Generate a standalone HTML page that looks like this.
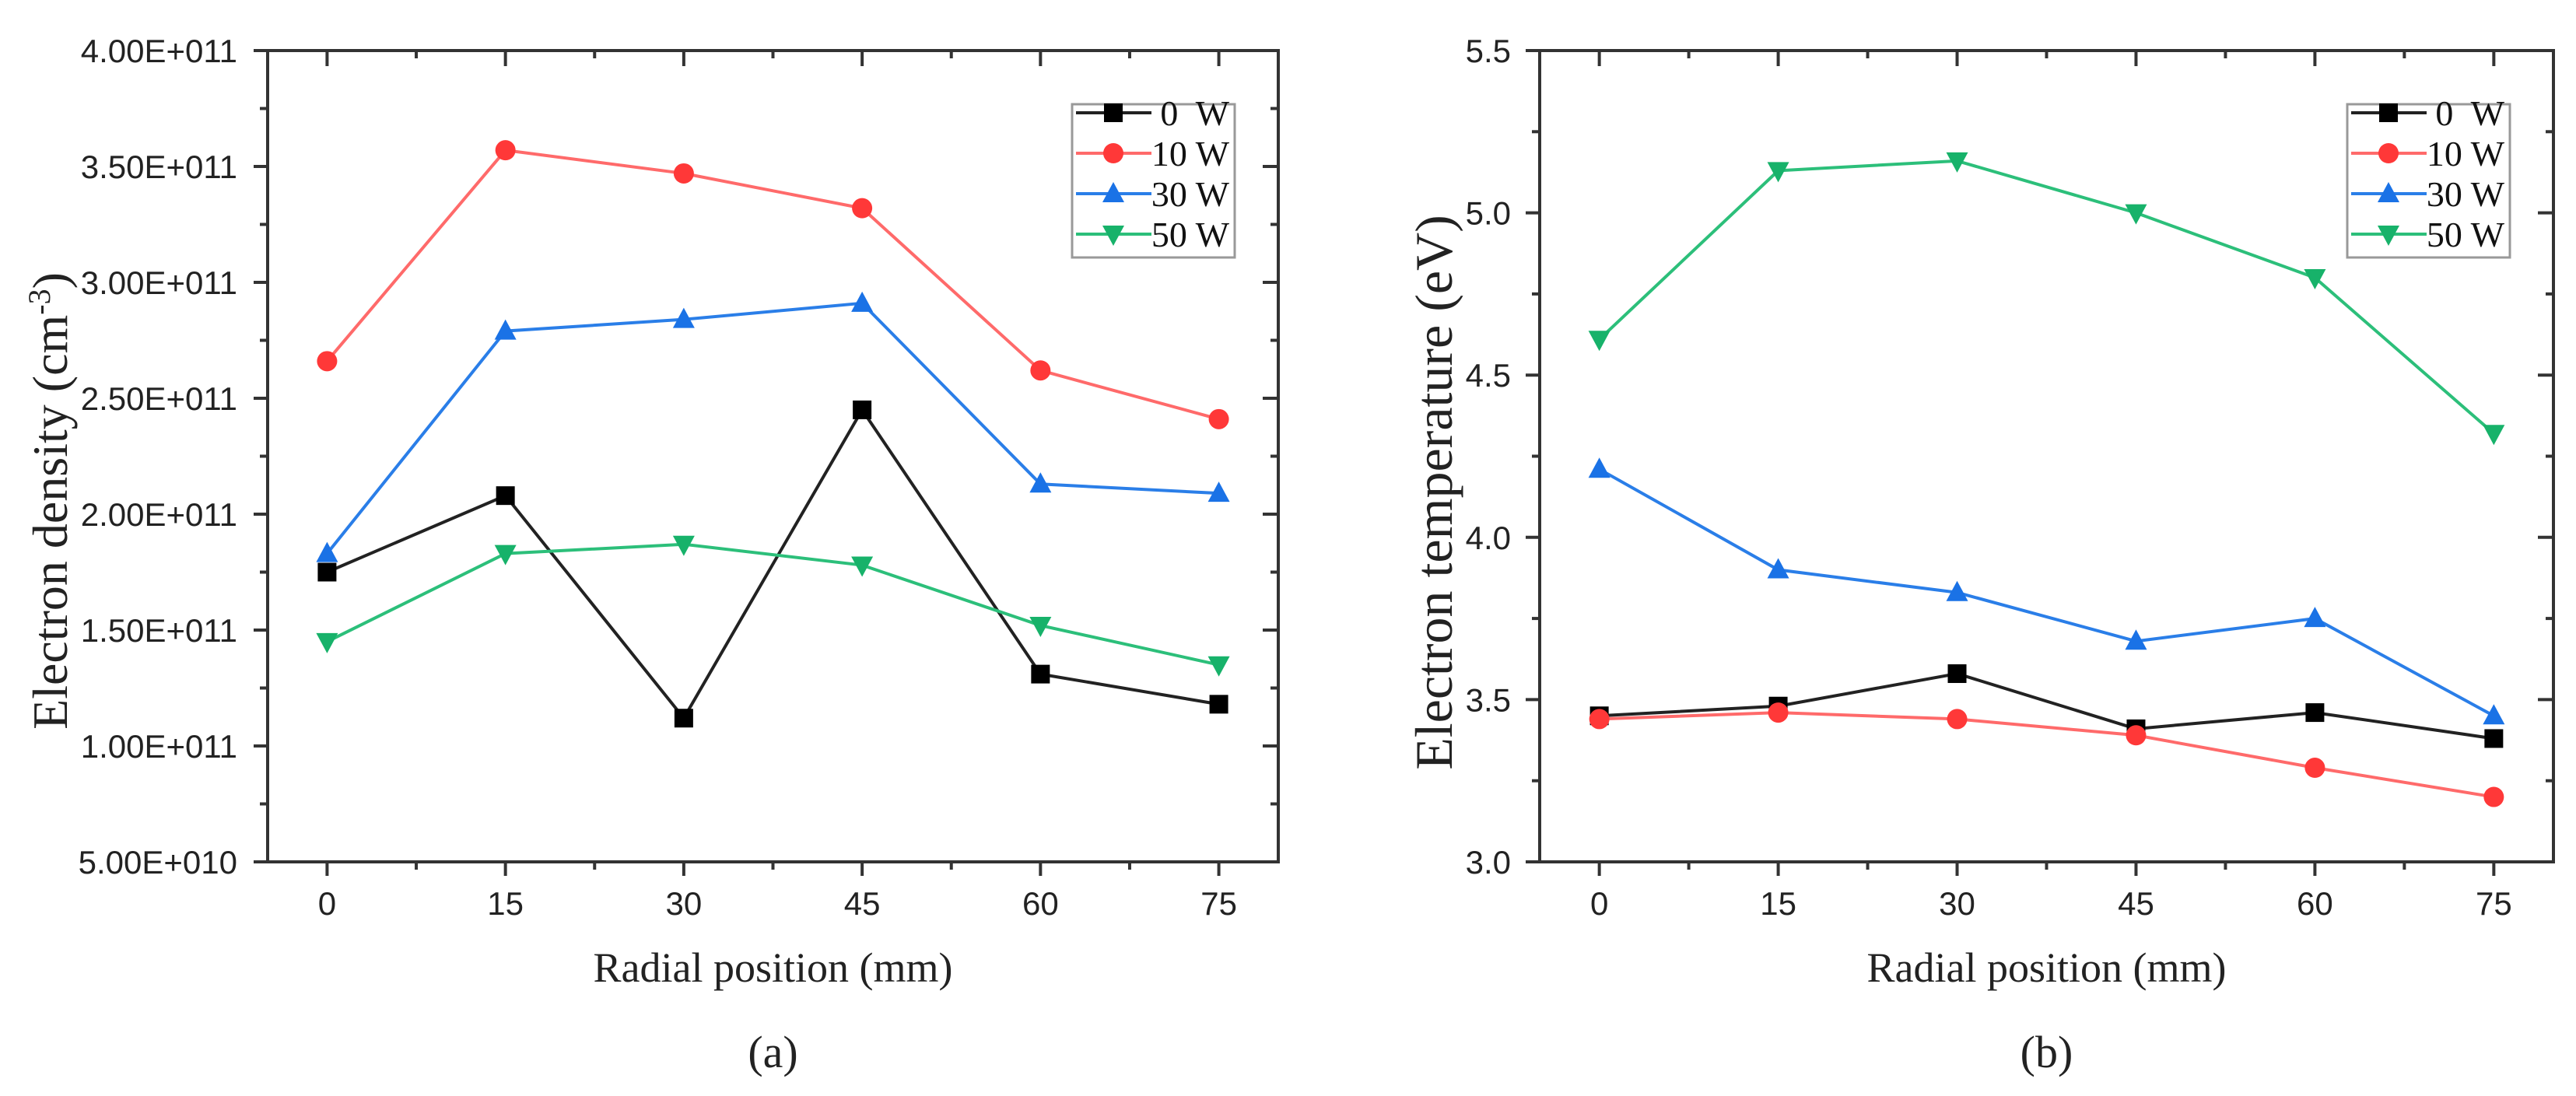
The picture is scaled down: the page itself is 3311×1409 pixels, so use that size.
<!DOCTYPE html>
<html><head><meta charset="utf-8"><style>
html,body{margin:0;padding:0;background:#fff;}
svg{display:block;}
.tick{font-family:"Liberation Sans",Arial,sans-serif;font-size:42px;fill:#222;}
.ttl{font-family:"Liberation Serif","Times New Roman",serif;font-size:54px;fill:#222;}
.leg{font-family:"Liberation Serif","Times New Roman",serif;font-size:46px;fill:#111;}
</style></head><body>
<svg id="fig" width="3311" height="1409" viewBox="0 0 3311 1409" xmlns="http://www.w3.org/2000/svg"></svg>
<script>
const categories = [0, 15, 30, 45, 60, 75];
const seriesNames = ["0  W", "10 W", "30 W", "50 W"];
const densityW0 = [1.75e11, 2.08e11, 1.12e11, 2.45e11, 1.31e11, 1.18e11];
const densityW10 = [2.66e11, 3.57e11, 3.47e11, 3.32e11, 2.62e11, 2.41e11];
const densityW30 = [1.83e11, 2.79e11, 2.84e11, 2.91e11, 2.13e11, 2.09e11];
const densityW50 = [1.45e11, 1.83e11, 1.87e11, 1.78e11, 1.52e11, 1.35e11];
const tempW0 = [3.45, 3.48, 3.58, 3.41, 3.46, 3.38];
const tempW10 = [3.44, 3.46, 3.44, 3.39, 3.29, 3.20];
const tempW30 = [4.21, 3.90, 3.83, 3.68, 3.75, 3.45];
const tempW50 = [4.61, 5.13, 5.16, 5.00, 4.80, 4.32];
const densityTicks = [5e10, 1e11, 1.5e11, 2e11, 2.5e11, 3e11, 3.5e11, 4e11];
const densityTickLabels = ["5.00E+010","1.00E+011","1.50E+011","2.00E+011","2.50E+011","3.00E+011","3.50E+011","4.00E+011"];
const tempTicks = [3.0, 3.5, 4.0, 4.5, 5.0, 5.5];
const tempTickLabels = ["3.0","3.5","4.0","4.5","5.0","5.5"];
const xTickLabels = ["0","15","30","45","60","75"];

const NS = "http://www.w3.org/2000/svg";
const svg = document.getElementById('fig');
const colors = ["#000000", "#ff3838", "#1a72e6", "#17b26a"];
const lineColors = ["#222222", "#ff6a6a", "#2a7ee8", "#2cbf7a"];
const markers = ["square", "circle", "up", "down"];

function mk(tag, attrs, parent) {
  const e = document.createElementNS(NS, tag);
  for (const k in attrs) e.setAttribute(k, attrs[k]);
  (parent || svg).appendChild(e);
  return e;
}
function marker(g, type, x, y, color) {
  let e;
  if (type === "square") e = mk('rect', {x: x - 12, y: y - 12, width: 24, height: 24, fill: color}, g);
  else if (type === "circle") e = mk('circle', {cx: x, cy: y, r: 13, fill: color}, g);
  else if (type === "up") e = mk('polygon', {points: `${x},${y-15} ${x+14},${y+11} ${x-14},${y+11}`, fill: color}, g);
  else e = mk('polygon', {points: `${x},${y+15} ${x+14},${y-11} ${x-14},${y-11}`, fill: color}, g);
  return e;
}

function chart(cfg) {
  const {L, R, T, B, ymin, ymax, yticks, ylabels, series, title, name, panel, labelRight} = cfg;
  const xmin = -5, xmax = 80;
  const sx = v => L + (v - xmin) / (xmax - xmin) * (R - L);
  const sy = v => B - (v - ymin) / (ymax - ymin) * (B - T);
  const g = mk('g', {});
  
  
  const fr = mk('rect', {x: L, y: T, width: R - L, height: B - T, fill: 'none', stroke: '#333', 'stroke-width': 4}, g);
  
  
  const step = yticks[1] - yticks[0];
  yticks.forEach((v, i) => {
    const y = sy(v);
    mk('line', {x1: L - 18, x2: L, y1: y, y2: y, stroke: '#333', 'stroke-width': 4}, g);
    mk('line', {x1: R - 20, x2: R, y1: y, y2: y, stroke: '#333', 'stroke-width': 4}, g);
    if (i < yticks.length - 1) {
      const ym = sy(v + step / 2);
      mk('line', {x1: L - 10, x2: L, y1: ym, y2: ym, stroke: '#333', 'stroke-width': 4}, g);
      mk('line', {x1: R - 10, x2: R, y1: ym, y2: ym, stroke: '#333', 'stroke-width': 4}, g);
    }
    const t = mk('text', {x: labelRight, y: y + 15, 'text-anchor': 'end', class: 'tick'}, g);
    t.textContent = ylabels[i];
    
    
  });
  categories.forEach((v, i) => {
    const x = sx(v);
    mk('line', {x1: x, x2: x, y1: B, y2: B + 18, stroke: '#333', 'stroke-width': 4}, g);
    mk('line', {x1: x, x2: x, y1: T, y2: T + 20, stroke: '#333', 'stroke-width': 4}, g);
    if (i < categories.length - 1) {
      const xm = sx(v + 7.5);
      mk('line', {x1: xm, x2: xm, y1: B, y2: B + 10, stroke: '#333', 'stroke-width': 4}, g);
      mk('line', {x1: xm, x2: xm, y1: T, y2: T + 10, stroke: '#333', 'stroke-width': 4}, g);
    }
    const t = mk('text', {x: x, y: B + 68, 'text-anchor': 'middle', class: 'tick'}, g);
    t.textContent = xTickLabels[i];
    
    
  });
  series.forEach((data, si) => {
    const sg = mk('g', {}, g);
    
    
    const pts = data.map((v, i) => sx(categories[i]) + ',' + sy(v)).join(' ');
    mk('polyline', {points: pts, fill: 'none', stroke: lineColors[si], 'stroke-width': 4}, sg);
    data.forEach((v, i) => {
      const m = marker(sg, markers[si], sx(categories[i]), sy(v), colors[si]);
      
      
    });
  });
  const lg = mk('g', {}, g);
  
  
  const lx = R - 265;
  mk('rect', {x: lx, y: 134, width: 209, height: 197, fill: '#fff', stroke: '#999', 'stroke-width': 3}, lg);
  seriesNames.forEach((n, i) => {
    const y = 145 + i * 52;
    const eg = mk('g', {}, lg);
    
    
    mk('line', {x1: lx + 5, x2: lx + 102, y1: y, y2: y, stroke: lineColors[i], 'stroke-width': 4}, eg);
    marker(eg, markers[i], lx + 53, y, colors[i]);
    const t = mk('text', {x: lx + 202, y: y + 16, 'text-anchor': 'end', class: 'leg'}, eg);
    t.textContent = n;
    t.style.whiteSpace = 'pre';
  });
  const cx = (L + R) / 2;
  const xt = mk('text', {x: cx, y: 1262, 'text-anchor': 'middle', class: 'ttl'}, g);
  xt.textContent = 'Radial position (mm)';
  
  
  const yt = mk('text', {x: 0, y: 0, 'text-anchor': 'middle', class: 'ttl', transform: `translate(${cfg.ytx},${cfg.yty}) rotate(-90)`}, g);
  yt.setAttribute('style', 'font-size:' + cfg.yfs + 'px');
  
  
  if (cfg.sup) {
    yt.appendChild(document.createTextNode(title));
    const s = mk('tspan', {dy: -22, 'font-size': 40}, yt);
    s.textContent = cfg.sup;
    const s2 = mk('tspan', {dy: 22}, yt);
    s2.textContent = ')';
  } else yt.textContent = title;
  const pl = mk('text', {x: cx, y: 1372, 'text-anchor': 'middle', class: 'ttl'}, g);
  pl.setAttribute('style', 'font-size:58px');
  pl.textContent = panel;
  
  
}

chart({L: 344, R: 1643, T: 65, B: 1108, ymin: 5e10, ymax: 4e11, yticks: densityTicks, ylabels: densityTickLabels,
  series: [densityW0, densityW10, densityW30, densityW50], title: 'Electron density (cm', sup: '-3',
  name: 'density-chart', panel: '(a)', labelRight: 305, ytx: 86, yty: 644, yfs: 64});
chart({L: 1979, R: 3282, T: 65, B: 1108, ymin: 3.0, ymax: 5.5, yticks: tempTicks, ylabels: tempTickLabels,
  series: [tempW0, tempW10, tempW30, tempW50], title: 'Electron temperature (eV)', sup: null,
  name: 'temperature-chart', panel: '(b)', labelRight: 1942, ytx: 1866, yty: 633, yfs: 68});
</script>
</body></html>
